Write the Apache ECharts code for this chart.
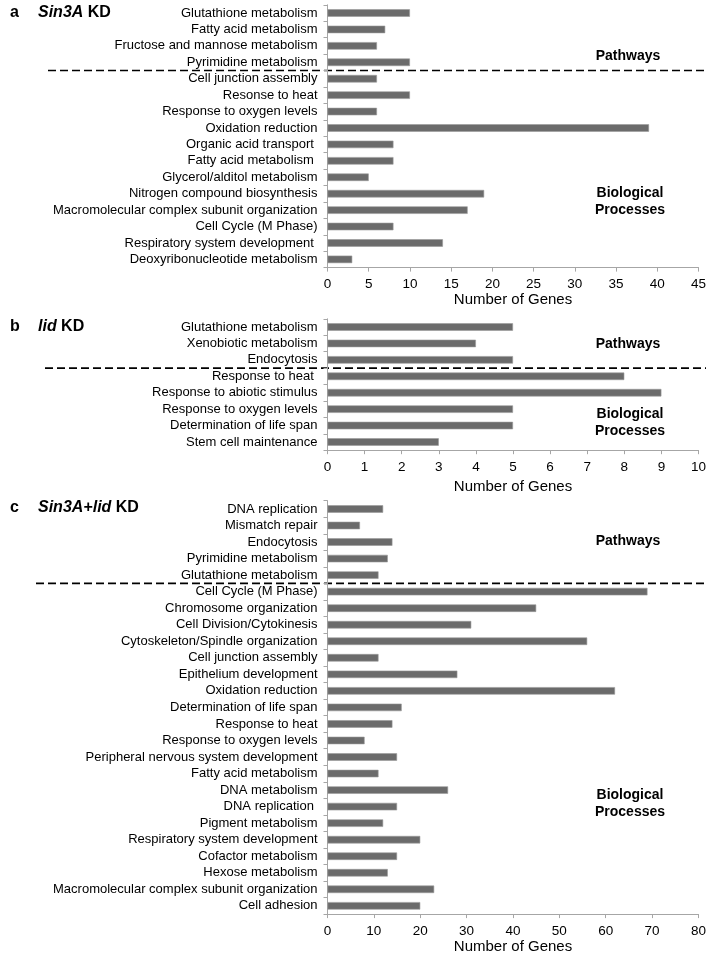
<!DOCTYPE html>
<html><head><meta charset="utf-8">
<script src="https://cdn.jsdelivr.net/npm/echarts@6/dist/echarts.min.js"></script>
<style>html,body{margin:0;padding:0;background:#fff}#c{width:709px;height:955px}</style>
</head><body><div id="c"></div>
<script>
// Panel a: Sin3A KD
const catsA = ["Glutathione metabolism","Fatty acid metabolism","Fructose and mannose metabolism","Pyrimidine metabolism","Cell junction assembly","Resonse to heat","Response to oxygen levels","Oxidation reduction","Organic acid transport ","Fatty acid metabolism ","Glycerol/alditol metabolism","Nitrogen compound biosynthesis","Macromolecular complex subunit organization","Cell Cycle (M Phase)","Respiratory system development ","Deoxyribonucleotide metabolism"];
const valsA = [10,7,6,10,6,10,6,39,8,8,5,19,17,8,14,3];
const pathwaysA = 4;
// Panel b: lid KD
const catsB = ["Glutathione metabolism","Xenobiotic metabolism","Endocytosis","Response to heat ","Response to abiotic stimulus","Response to oxygen levels","Determination of life span","Stem cell maintenance"];
const valsB = [5,4,5,8,9,5,5,3];
const pathwaysB = 3;
// Panel c: Sin3A+lid KD
const catsC = ["DNA replication","Mismatch repair","Endocytosis","Pyrimidine metabolism","Glutathione metabolism","Cell Cycle (M Phase)","Chromosome organization","Cell Division/Cytokinesis","Cytoskeleton/Spindle organization","Cell junction assembly","Epithelium development","Oxidation reduction","Determination of life span","Response to heat","Response to oxygen levels","Peripheral nervous system development","Fatty acid metabolism","DNA metabolism","DNA replication ","Pigment metabolism","Respiratory system development","Cofactor metabolism","Hexose metabolism","Macromolecular complex subunit organization","Cell adhesion"];
const valsC = [12,7,14,13,11,69,45,31,56,11,28,62,16,14,8,15,11,26,15,12,20,15,13,23,20];
const pathwaysC = 5;
const xMaxA = 45, xIntA = 5;
const xMaxB = 10, xIntB = 1;
const xMaxC = 80, xIntC = 10;

const FONT = '"Liberation Sans", Arial, sans-serif';
const AX = '#a6a6a6';
const chart = echarts.init(document.getElementById('c'), null, {renderer:'canvas'});

const grids = [
  {left:327.5, right:10, top:4.8, height:262.8},
  {left:327.5, right:10, top:318.8, height:131.4},
  {left:327.5, right:10, top:500.7, height:413.5}
];
function xAx(i, max, interval, gap){
  return {type:'value', gridIndex:i, min:0, max:max, interval:interval,
    name:'Number of Genes', nameLocation:'middle', nameGap:gap,
    nameTextStyle:{fontFamily:FONT, fontSize:15, color:'#000'},
    axisLine:{show:true, lineStyle:{color:AX, width:1}},
    axisTick:{show:true, length:4, lineStyle:{color:AX}},
    axisLabel:{fontFamily:FONT, fontSize:13.5, color:'#000', margin:10},
    splitLine:{show:false}};
}
function yAx(i, cats){
  return {type:'category', gridIndex:i, data:cats, inverse:true,
    axisLine:{show:true, lineStyle:{color:AX, width:1}},
    axisTick:{show:true, length:4, alignWithLabel:false, lineStyle:{color:AX}},
    axisLabel:{fontFamily:FONT, fontSize:13, color:'#000', margin:10, interval:0}};
}
function ser(i, vals){
  return {type:'bar', xAxisIndex:i, yAxisIndex:i, data:vals, barWidth:7.5,
    itemStyle:{color:'#6b6b6b', borderColor:'#9a9a9a', borderWidth:0.6}, silent:true, animation:false};
}
chart.setOption({
  animation:false,
  grid:grids,
  xAxis:[xAx(0,xMaxA,xIntA,23), xAx(1,xMaxB,xIntB,29), xAx(2,xMaxC,xIntC,21)],
  yAxis:[yAx(0,catsA), yAx(1,catsB), yAx(2,catsC)],
  series:[ser(0,valsA), ser(1,valsB), ser(2,valsC)]
});

function boundaryY(idx, cats, n){
  const a = chart.convertToPixel({yAxisIndex:idx}, cats[n-1]);
  const b = chart.convertToPixel({yAxisIndex:idx}, cats[n]);
  return (a+b)/2;
}
const dash = (x1, y) => ({type:'line', shape:{x1:x1, y1:y, x2:706, y2:y},
  style:{stroke:'#000', lineWidth:1.6, lineDash:[8,4]}, silent:true});
const txt = (x, y, t, opts) => ({type:'text', x:x, y:y,
  style:Object.assign({text:t, font:'bold 14px '+FONT, fill:'#000', align:'center', verticalAlign:'middle'}, opts||{}), silent:true});
const panelLabel = (y, letter, rich) => ({type:'text', x:10, y:y,
  style:{text:'{l|'+letter+'}' + rich, verticalAlign:'middle',
    rich:{l:{font:'bold 16px '+FONT, fill:'#000', width:28},
          i:{font:'italic bold 16px '+FONT, fill:'#000'},
          b:{font:'bold 16px '+FONT, fill:'#000'}}}, silent:true});

chart.setOption({graphic:[
  dash(48, boundaryY(0, catsA, pathwaysA)),
  dash(45, boundaryY(1, catsB, pathwaysB)),
  dash(36, boundaryY(2, catsC, pathwaysC)),
  txt(628, 56, 'Pathways'),
  txt(630, 193, 'Biological'),
  txt(630, 210, 'Processes'),
  txt(628, 344, 'Pathways'),
  txt(630, 414, 'Biological'),
  txt(630, 431, 'Processes'),
  txt(628, 541, 'Pathways'),
  txt(630, 795, 'Biological'),
  txt(630, 812, 'Processes'),
  panelLabel(13, 'a', '{i|Sin3A}{b| KD}'),
  panelLabel(327, 'b', '{i|lid}{b| KD}'),
  panelLabel(508, 'c', '{i|Sin3A+lid}{b| KD}')
]});
</script></body></html>
